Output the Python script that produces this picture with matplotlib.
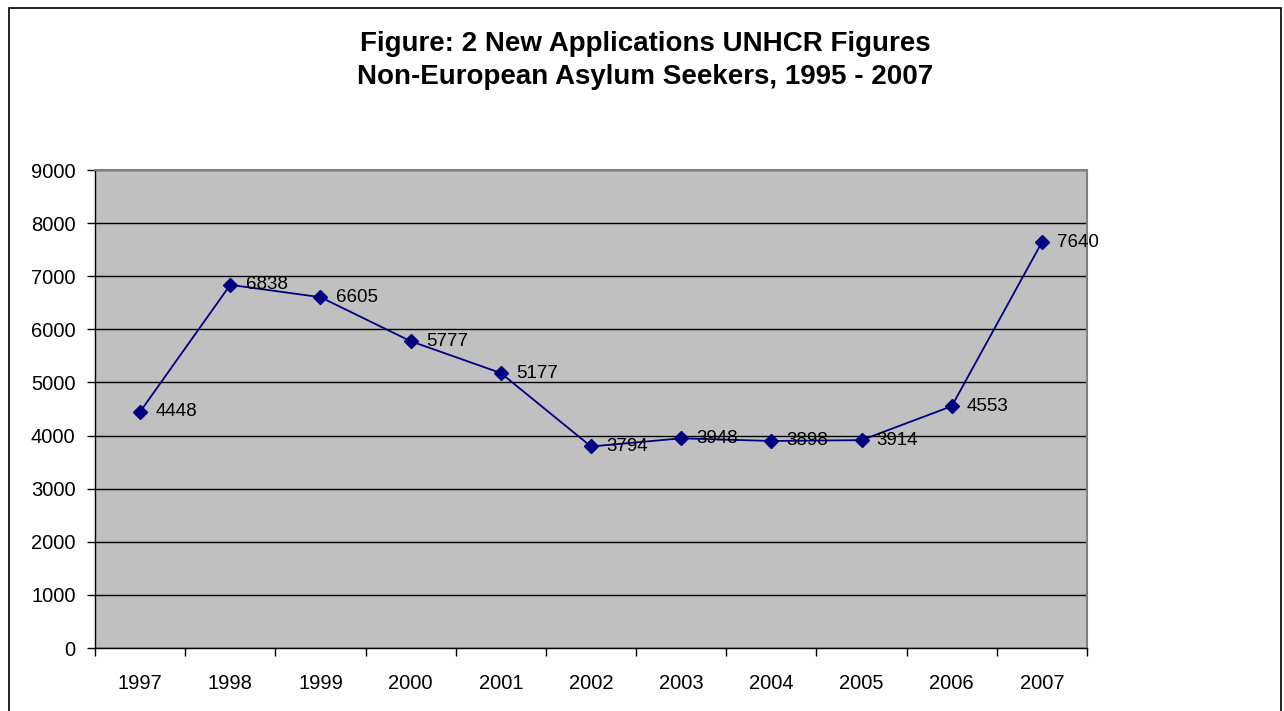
import matplotlib
matplotlib.use("Agg")
import matplotlib.pyplot as plt
from matplotlib.patches import Rectangle
import numpy as np

# data
years = ['1997', '1998', '1999', '2000', '2001', '2002', '2003', '2004', '2005', '2006', '2007']
applications = [4448, 6838, 6605, 5777, 5177, 3794, 3948, 3898, 3914, 4553, 7640]
y_ticks = [0, 1000, 2000, 3000, 4000, 5000, 6000, 7000, 8000, 9000]

plt.rcParams['font.family'] = ['Liberation Sans', 'DejaVu Sans']

fig = plt.figure(figsize=(12.84, 7.11), dpi=100)
ax = fig.add_axes([95 / 1284, 63 / 711, 992 / 1284, 478 / 711])

# outer chart border
fig.patches.append(Rectangle((9 / 1284, -0.05), 1272 / 1284, (711 - 8) / 711 + 0.05,
                             transform=fig.transFigure, fill=False,
                             edgecolor='black', linewidth=1.2))

x = np.arange(len(years)) + 0.5
ax.set_facecolor('#C0C0C0')
ax.plot(x, applications, color='#000080', linewidth=1.3, marker='D',
        markersize=7.5, zorder=3)
for xi, v in zip(x, applications):
    ax.annotate(str(v), (xi, v), xytext=(11, 0), textcoords='offset points',
                ha='left', va='center', fontsize=13.5, color='black', zorder=4)

ax.set_xlim(0, len(years))
ax.set_ylim(0, 9000)
ax.set_yticks(y_ticks)
ax.set_yticklabels([str(t) for t in y_ticks], fontsize=14.5)
ax.set_xticks(np.arange(len(years) + 1))
ax.set_xticklabels([])
ax.set_xticks(x, minor=True)
ax.set_xticklabels(years, minor=True, fontsize=14.5)
ax.tick_params(axis='x', which='minor', length=0, pad=19)
ax.tick_params(axis='x', which='major', length=6, direction='out', width=1)
ax.tick_params(axis='y', length=6, direction='out', width=1, pad=8)

ax.grid(axis='y', color='black', linewidth=1)
ax.set_axisbelow(True)
for side in ['top', 'right']:
    ax.spines[side].set_color('#808080')
    ax.spines[side].set_linewidth(1.5)
for side in ['left', 'bottom']:
    ax.spines[side].set_color('black')
    ax.spines[side].set_linewidth(1)

fig.text(645 / 1284, 1 - 44 / 711, 'Figure: 2 New Applications UNHCR Figures',
         ha='center', va='center', fontsize=20, fontweight='bold')
fig.text(645 / 1284, 1 - 77 / 711, 'Non-European Asylum Seekers, 1995 - 2007',
         ha='center', va='center', fontsize=20, fontweight='bold')

fig.savefig('out.png', dpi=100)
